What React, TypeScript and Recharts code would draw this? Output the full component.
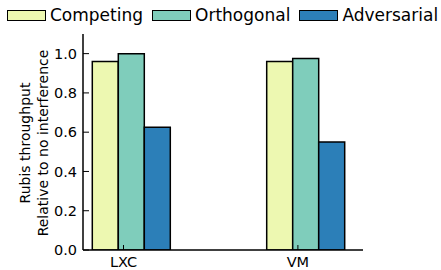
import React from 'react';
import { BarChart, Bar, XAxis, YAxis } from 'recharts';

const categories = ['LXC', 'VM'];
const competing = [0.96, 0.96];
const orthogonal = [1.0, 0.975];
const adversarial = [0.625, 0.55];
const yTicks = [0, 0.2, 0.4, 0.6, 0.8, 1.0];

const series = [
  { key: 'competing', name: 'Competing', color: '#edf8b1' },
  { key: 'orthogonal', name: 'Orthogonal', color: '#7fcdbb' },
  { key: 'adversarial', name: 'Adversarial', color: '#2c7fb8' },
];

const data = categories.map((c, i) => ({
  name: c,
  competing: competing[i],
  orthogonal: orthogonal[i],
  adversarial: adversarial[i],
}));

const FONT = '"DejaVu Sans", sans-serif';

const XTick = (props: any) => {
  const { x, y, payload } = props;
  const tx = x - 8;
  return (
    <g>
      <line x1={tx} y1={y} x2={tx} y2={y - 5} stroke="#000" strokeWidth={1} />
      <text x={tx} y={y + 17} textAnchor="middle" fontSize={14.5} fontFamily={FONT} fill="#000">
        {payload.value}
      </text>
    </g>
  );
};

const YLabel = (props: any) => {
  const cy = 143;
  return (
    <text
      transform={`translate(0, ${cy}) rotate(-90)`}
      textAnchor="middle"
      fontSize={14}
      fontFamily={FONT}
      fill="#000"
    >
      <tspan x={0} y={30}>Rubis throughput</tspan>
      <tspan x={0} y={48}>Relative to no interference</tspan>
    </text>
  );
};

const Legend = () => (
  <div
    style={{
      position: 'absolute',
      left: 7,
      top: 0,
      display: 'flex',
      alignItems: 'center',
      height: 30,
      fontFamily: FONT,
      fontSize: 17,
      color: '#000',
      whiteSpace: 'nowrap',
    }}
  >
    {series.map((s) => (
      <div key={s.key} style={{ display: 'flex', alignItems: 'center', marginRight: 9 }}>
        <div
          style={{
            width: 37,
            height: 9,
            background: s.color,
            border: '1px solid #000',
            marginRight: 4,
          }}
        />
        <span>{s.name}</span>
      </div>
    ))}
  </div>
);

export default function App() {
  return (
    <div style={{ position: 'absolute', left: 0, top: 0, width: 441, height: 270, background: '#fff' }}>
      <Legend />
      <BarChart
        width={441}
        height={270}
        data={data}
        margin={{ top: 34, right: 78, left: 43, bottom: 0 }}
        barGap={0}
        barCategoryGap={48}
      >
        <XAxis
          dataKey="name"
          height={20}
          padding={{ left: -38.7, right: -30.1 }}
          tickLine={false}
          tickSize={0}
          tickMargin={0}
          axisLine={{ stroke: '#000', strokeWidth: 1.5 }}
          tick={<XTick />}
          interval={0}
        />
        <XAxis
          xAxisId="top"
          dataKey="name"
          orientation="top"
          height={0}
          tick={false}
          tickLine={false}
          axisLine={{ stroke: '#000', strokeWidth: 1.5 }}
        />
        <YAxis
          width={40}
          domain={[0, 1.1]}
          ticks={yTicks}
          allowDataOverflow
          tickSize={-6}
          tickMargin={12}
          tickFormatter={(v: number) => v.toFixed(1)}
          tick={{ fontSize: 14.5, fontFamily: FONT, fill: '#000' }}
          tickLine={{ stroke: '#000' }}
          axisLine={{ stroke: '#000', strokeWidth: 1.5 }}
          label={<YLabel />}
        />
        <YAxis
          yAxisId="right"
          orientation="right"
          width={0}
          domain={[0, 1.1]}
          tick={false}
          tickLine={false}
          axisLine={{ stroke: '#000', strokeWidth: 1.5 }}
        />
        {series.map((s) => (
          <Bar
            key={s.key}
            dataKey={s.key}
            name={s.name}
            fill={s.color}
            stroke="#000"
            strokeWidth={1.5}
            isAnimationActive={false}
          />
        ))}
      </BarChart>
    </div>
  );
}
